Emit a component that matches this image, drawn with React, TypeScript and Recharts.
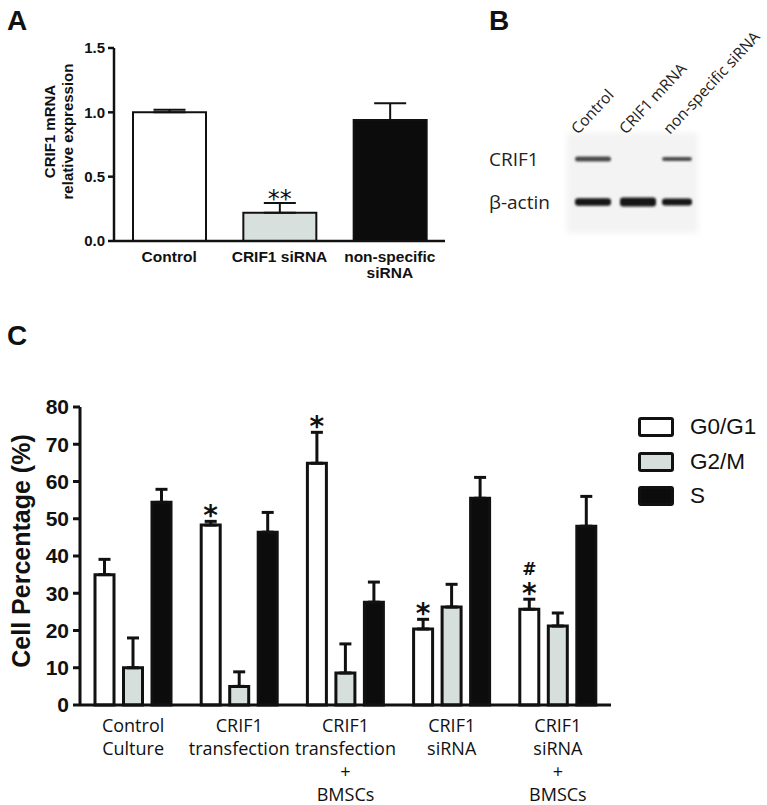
import React from 'react'
import { BarChart, Bar, XAxis, YAxis, ErrorBar, LabelList, Legend, Cell, Label } from 'recharts'

// panel A - CRIF1 mRNA (qPCR)
const mrnaGroups = ['Control', 'CRIF1 siRNA', 'non-specific\nsiRNA']
const mrnaMean = [1.0, 0.22, 0.94]
const mrnaSem = [0.02, 0.075, 0.13]
const mrnaMarks = ['', '**', '']
const mrnaFills = ['#ffffff', '#d8e0dd', '#0c0c0c']

// panel B - western blot
const blotLanes = ['Control', 'CRIF1 mRNA', 'non-specific siRNA']
const blotRows = ['CRIF1', 'β-actin']
const crif1Band = [1, 0, 0.8]
const actinBand = [1, 1.2, 0.9]

// panel C - cell cycle
const cycleGroups = [
  'Control\nCulture',
  'CRIF1\ntransfection',
  'CRIF1\ntransfection\n+\nBMSCs',
  'CRIF1\nsiRNA',
  'CRIF1\nsiRNA\n+\nBMSCs',
]
const cyclePhases = ['G0/G1', 'G2/M', 'S']
const g0g1Mean = [35, 48.3, 64.9, 20.4, 25.7]
const g0g1Sem = [4.1, 1.0, 8.3, 2.6, 2.7]
const g2mMean = [10, 5, 8.6, 26.3, 21.2]
const g2mSem = [8, 3.9, 7.8, 6.1, 3.5]
const sMean = [54.4, 46.4, 27.6, 55.5, 48]
const sSem = [3.5, 5.3, 5.4, 5.6, 8]
const g0g1Marks = ['', '*', '*', '*', '#\n*']

const INK = '#111'
const ARIAL = "'Liberation Sans', Arial, sans-serif"
const MYRIAD = "'Open Sans', sans-serif"

const mrnaData = mrnaGroups.map((name, i) => ({
  name,
  value: mrnaMean[i],
  sem: [0, mrnaSem[i]],
}))

const cycleData = cycleGroups.map((name, i) => ({
  name,
  g0g1: g0g1Mean[i],
  g0g1Sem: [0, g0g1Sem[i]],
  g2m: g2mMean[i],
  g2mSem: [0, g2mSem[i]],
  s: sMean[i],
  sSem: [0, sSem[i]],
}))

// significance marks sitting on top of the error bar (stacked lines in one text)
const sigMarks = (marks: string[], means: number[], sems: number[], size: number, bold: boolean) =>
  (props: any) => {
    const idx = props.index
    const text = marks[idx]
    if (!text) return null
    const vb = props.viewBox ?? props
    const h = Math.abs(vb.height)
    const top = vb.y - (h / means[idx]) * sems[idx]
    const cx = vb.x + vb.width / 2
    const lines = text.split('\n')
    const base = top + 4 - (lines.length - 1) * 28
    return (
      <text
        x={cx}
        y={base}
        textAnchor="middle"
        fontFamily="'DejaVu Sans', sans-serif"
        fontWeight={bold ? 'bold' : 'normal'}
        fill={INK}
      >
        {lines.map((t, i) => (
          <tspan key={i} x={cx} dy={i === 0 ? 0 : 28} fontSize={t === '#' ? 17 : size}>
            {t}
          </tspan>
        ))}
      </text>
    )
  }

const MrnaTick = ({ x, y, payload }: any) => {
  const lines = String(payload.value).split('\n')
  return (
    <text x={x} y={y} textAnchor="middle" fontFamily={ARIAL} fontWeight="bold" fontSize={15.5} fill={INK}>
      {lines.map((l, i) => (
        <tspan key={i} x={x} dy={i === 0 ? 21 : 16}>{l}</tspan>
      ))}
    </text>
  )
}

const CycleTick = ({ x, y, payload }: any) => {
  const lines = String(payload.value).split('\n')
  return (
    <text x={x} y={y} textAnchor="middle" fontFamily={MYRIAD} fontSize={18} fill={INK}>
      {lines.map((l, i) => (
        <tspan key={i} x={x} dy={i === 0 ? 27 : 23}>{l}</tspan>
      ))}
    </text>
  )
}

const CycleLegend = ({ payload }: any) => (
  <div>
    {(payload || []).map((p: any) => (
      <div key={p.value} style={{ display: 'flex', alignItems: 'center', height: 34.5 }}>
        <div
          style={{
            width: 36,
            height: 20,
            boxSizing: 'border-box',
            border: `3.5px solid ${INK}`,
            borderRadius: 3,
            background: p.payload?.fill ?? p.color,
          }}
        />
        <span style={{ marginLeft: 16, fontFamily: ARIAL, fontSize: 22.5, color: INK }}>{p.value}</span>
      </div>
    ))}
  </div>
)

const PanelLetter = ({ x, y, text }: { x: number; y: number; text: string }) => (
  <div
    style={{
      position: 'absolute',
      left: x,
      top: y,
      fontFamily: ARIAL,
      fontWeight: 'bold',
      fontSize: 28,
      lineHeight: 1,
      color: INK,
    }}
  >
    {text}
  </div>
)

const Blot = () => {
  // lane geometry of the scanned membrane
  const laneX = [593, 638, 677]
  const laneW = [36, 36, 30]
  const labelStart = [578, 626, 670]
  return (
    <svg width={767} height={300} style={{ position: 'absolute', left: 0, top: 0 }}>
      <defs>
        <filter id="soft" x="-20%" y="-50%" width="140%" height="200%">
          <feGaussianBlur stdDeviation="0.9" />
        </filter>
        <filter id="bg" x="-10%" y="-10%" width="120%" height="120%">
          <feGaussianBlur stdDeviation="3" />
        </filter>
      </defs>
      <rect x={567} y={133} width={131} height={100} fill="#f3f3f3" filter="url(#bg)" />
      {blotLanes.map((lane, i) => (
        <text
          key={lane}
          x={labelStart[i]}
          y={135}
          transform={`rotate(-47 ${labelStart[i]} 135)`}
          fontFamily={MYRIAD}
          fontSize={15.5}
          fill="#222"
        >
          {lane}
        </text>
      ))}
      <text x={489} y={166} fontFamily={MYRIAD} fontSize={19} fill="#222">{blotRows[0]}</text>
      <text x={489} y={209} fontFamily={MYRIAD} fontSize={19} fill="#222">{blotRows[1]}</text>
      {crif1Band.map((v, i) =>
        v > 0 ? (
          <rect
            key={'c' + i}
            x={laneX[i] - laneW[i] / 2}
            y={159 - 2.6 * v}
            width={laneW[i]}
            height={5.2 * v}
            rx={2.5}
            fill="#4a4a4a"
            filter="url(#soft)"
          />
        ) : null
      )}
      {actinBand.map((v, i) => (
        <rect
          key={'a' + i}
          x={laneX[i] - laneW[i] / 2}
          y={202 - 3.8 * v}
          width={laneW[i]}
          height={7.6 * v}
          rx={3}
          fill="#141414"
          filter="url(#soft)"
        />
      ))}
    </svg>
  )
}

export default function App() {
  return (
    <div style={{ position: 'relative', width: 767, height: 805, background: '#fff', overflow: 'hidden', fontFamily: ARIAL }}>
      <style>{'body{margin:0}'}</style>

      <PanelLetter x={7} y={7} text="A" />
      <PanelLetter x={489} y={7} text="B" />
      <PanelLetter x={7} y={322} text="C" />

      <div style={{ position: 'absolute', left: 0, top: 0 }}>
        <BarChart width={460} height={290} data={mrnaData} margin={{ top: 48, right: 15, left: 0, bottom: 0 }}>
          <XAxis
            dataKey="name"
            height={49}
            tickLine={false}
            tickSize={0}
            tickMargin={0}
            interval={0}
            axisLine={{ stroke: INK, strokeWidth: 2.5 }}
            tick={<MrnaTick />}
          />
          <YAxis
            width={114}
            domain={[0, 1.5]}
            ticks={[0, 0.5, 1, 1.5]}
            tickFormatter={(v: number) => v.toFixed(1)}
            tickSize={6}
            tickMargin={3}
            axisLine={{ stroke: INK, strokeWidth: 2.5 }}
            tickLine={{ stroke: INK, strokeWidth: 2.5 }}
            tick={{ fontFamily: ARIAL, fontWeight: 'bold', fontSize: 15, fill: INK }}
          >
            <Label
              content={({ viewBox }: any) => {
                const cy = viewBox.y + viewBox.height / 2 - 13
                return (
                  <g>
                    <text x={55} y={cy} transform={`rotate(-90 55 ${cy})`} textAnchor="middle" fontFamily={ARIAL} fontWeight="bold" fontSize={15} fill={INK}>
                      CRIF1 mRNA
                    </text>
                    <text x={73} y={cy} transform={`rotate(-90 73 ${cy})`} textAnchor="middle" fontFamily={ARIAL} fontWeight="bold" fontSize={15} fill={INK}>
                      relative expression
                    </text>
                  </g>
                )
              }}
            />
          </YAxis>
          <Bar dataKey="value" barSize={73} stroke={INK} strokeWidth={2} isAnimationActive={false}>
            {mrnaData.map((d, i) => (
              <Cell key={d.name} fill={mrnaFills[i]} />
            ))}
            <ErrorBar dataKey="sem" width={16} strokeWidth={2} stroke={INK} direction="y" />
            <LabelList dataKey="value" content={sigMarks(mrnaMarks, mrnaMean, mrnaSem, 24, false)} />
          </Bar>
        </BarChart>
      </div>

      <Blot />

      <div style={{ position: 'absolute', left: 0, top: 380 }}>
        <BarChart
          width={767}
          height={425}
          data={cycleData}
          margin={{ top: 27, right: 156, left: 0, bottom: 0 }}
          barSize={19}
          barGap={9.5}
        >
          <XAxis
            dataKey="name"
            height={100}
            tickLine={false}
            tickSize={0}
            tickMargin={0}
            interval={0}
            axisLine={{ stroke: INK, strokeWidth: 3 }}
            tick={<CycleTick />}
          />
          <YAxis
            width={80}
            domain={[0, 80]}
            ticks={[0, 10, 20, 30, 40, 50, 60, 70, 80]}
            tickSize={7}
            tickMargin={4}
            axisLine={{ stroke: INK, strokeWidth: 3 }}
            tickLine={{ stroke: INK, strokeWidth: 3 }}
            tick={{ fontFamily: ARIAL, fontWeight: 'bold', fontSize: 21, fill: INK }}
          >
            <Label
              content={({ viewBox }: any) => {
                const cy = viewBox.y + viewBox.height / 2 - 5
                return (
                  <text x={30} y={cy} transform={`rotate(-90 30 ${cy})`} textAnchor="middle" fontFamily={ARIAL} fontWeight="bold" fontSize={25} fill={INK}>
                    Cell Percentage (%)
                  </text>
                )
              }}
            />
          </YAxis>
          <Legend
            layout="vertical"
            align="center"
            verticalAlign="middle"
            wrapperStyle={{ left: 638, top: 30, width: 130 }}
            content={<CycleLegend />}
          />
          <Bar dataKey="g0g1" name={cyclePhases[0]} fill="#ffffff" stroke={INK} strokeWidth={3} isAnimationActive={false}>
            <ErrorBar dataKey="g0g1Sem" width={6} strokeWidth={3} stroke={INK} direction="y" />
            <LabelList dataKey="g0g1" content={sigMarks(g0g1Marks, g0g1Mean, g0g1Sem, 28, true)} />
          </Bar>
          <Bar dataKey="g2m" name={cyclePhases[1]} fill="#d6dfdc" stroke={INK} strokeWidth={3} isAnimationActive={false}>
            <ErrorBar dataKey="g2mSem" width={6} strokeWidth={3} stroke={INK} direction="y" />
          </Bar>
          <Bar dataKey="s" name={cyclePhases[2]} fill="#0c0c0c" stroke={INK} strokeWidth={3} isAnimationActive={false}>
            <ErrorBar dataKey="sSem" width={6} strokeWidth={3} stroke={INK} direction="y" />
          </Bar>
        </BarChart>
      </div>
    </div>
  )
}
